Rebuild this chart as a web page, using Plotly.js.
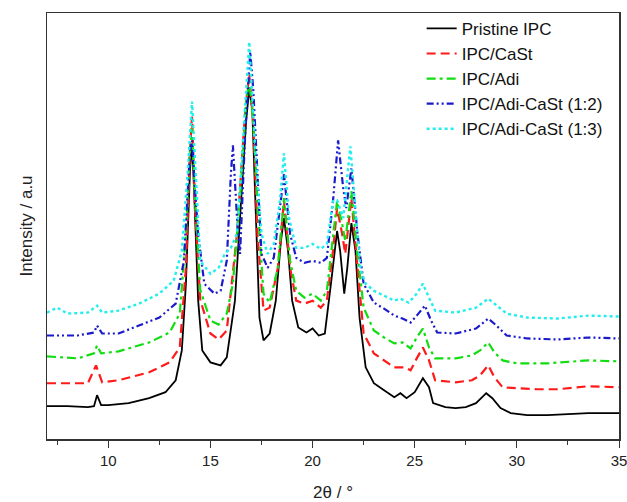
<!DOCTYPE html>
<html>
<head>
<meta charset="utf-8">
<script src="https://cdn.plot.ly/plotly-3.0.1.min.js"></script>
<style>html,body{margin:0;padding:0;background:#fff;}#chart{width:627px;height:502px;}</style>
</head>
<body>
<div id="chart"></div>
<script>
// 2θ positions and intensities (arbitrary units)
const xPristine = [7,8,9,9.3,9.45,9.65,10,11,12,12.8,13.3,13.6,13.8,14.0,14.1,14.2,14.4,14.6,15.0,15.5,15.8,16.2,16.5,16.75,16.9,17.05,17.2,17.4,17.6,17.9,18.2,18.45,18.6,18.8,19.0,19.3,19.7,20.0,20.3,20.6,20.9,21.2,21.35,21.55,21.7,21.9,22.1,22.3,22.6,23.0,23.5,24.0,24.3,24.6,25.0,25.4,25.7,25.9,26.5,27.0,27.5,28.0,28.5,28.8,29.2,29.7,30.5,31.5,33.5,35];
const yPristine = [33,33,32,33,44,34,34,36,41,47,59,89,156,270,296,250,139,89,77,74,82,139,239,320,352,330,239,122,99,106,139,199,222,189,139,112,107,111,104,106,156,209,189,146,172,217,189,122,72,56,49,42,46,41,47,61,52,36,32,31,32,36,46,41,31,26,24,24,26,26];

const xCaSt = [7,9.0,9.4,9.7,10.5,12,13,13.5,13.8,14.0,14.1,14.25,14.5,15.0,15.4,15.8,16.3,16.7,16.9,17.1,17.3,17.6,17.9,18.3,18.6,18.9,19.2,19.6,20.0,20.4,20.7,21.0,21.2,21.45,21.6,21.9,22.2,22.5,23.0,23.5,24.0,24.5,24.8,25.1,25.4,25.7,26.0,27.0,27.8,28.2,28.6,28.9,29.3,30.0,31,32,33.5,35];
const yCaSt = [56,56,74,57,59,67,77,92,172,290,324,230,140,106,100,109,206,330,366,320,206,129,132,172,239,172,139,136,139,132,139,189,232,206,186,242,172,106,86,79,72,72,69,81,92,79,59,57,59,64,74,62,52,51,50,50,53,52];

const xAdi = [7,8.5,9.3,9.45,9.65,10.5,12,13,13.5,13.8,14.0,14.1,14.25,14.5,15.0,15.4,15.8,16.1,16.5,16.75,16.9,17.1,17.3,17.6,17.9,18.3,18.6,18.9,19.2,19.6,20.0,20.4,20.7,21.0,21.2,21.45,21.6,21.9,22.2,22.5,23.0,23.5,24.0,24.4,24.8,25.1,25.4,25.7,26.0,27.0,27.8,28.2,28.6,28.9,29.3,30.0,31.5,33.5,35];
const yAdi = [83,81,86,94,86,88,97,107,126,206,290,312,240,150,119,115,126,156,256,340,359,320,239,146,137,172,242,179,149,142,146,139,149,206,239,216,199,249,186,132,109,102,96,97,91,102,111,92,81,81,84,89,97,87,79,76,76,79,78];

const xAdiCaSt12 = [7,8.5,9.3,9.45,9.7,10.5,11.5,12.5,13.3,13.7,14.0,14.1,14.25,14.4,14.7,15.2,15.5,15.8,16.0,16.1,16.3,16.45,16.7,16.95,17.1,17.3,17.5,17.8,18.1,18.4,18.6,18.9,19.2,19.6,20.0,20.4,20.7,21.0,21.25,21.5,21.65,21.9,22.2,22.5,23.0,23.5,24.0,24.4,24.8,25.1,25.5,25.8,26.1,27.0,28.0,28.6,29.0,29.5,30.5,32,33.5,35];
const yAdiCaSt12 = [104,104,107,114,106,106,114,122,136,179,290,300,250,206,156,146,149,179,266,295,222,186,306,389,350,272,186,172,182,232,266,206,182,177,179,177,182,239,300,252,232,272,206,156,137,131,124,121,117,124,134,119,107,106,111,121,114,104,101,100,102,101];

const xAdiCaSt13 = [7,7.5,8.0,9.0,9.45,9.7,10.5,11.5,12.5,13.2,13.6,13.9,14.1,14.3,14.5,15.0,15.4,15.7,16.0,16.3,16.6,16.9,17.2,17.5,17.8,18.1,18.4,18.6,18.85,19.2,19.6,20.0,20.4,20.7,21.0,21.2,21.5,21.85,22.1,22.35,22.6,23.0,23.5,24.0,24.3,24.7,25.1,25.4,25.7,26.0,27.0,28.0,28.6,29.0,29.5,30.5,32,33.5,35];
const yAdiCaSt13 = [127,132,126,127,134,127,129,136,146,159,189,272,339,256,179,166,172,186,192,206,306,399,289,206,186,196,239,287,222,192,192,196,191,196,239,240,222,294,230,170,156,149,144,139,141,137,146,156,142,129,127,132,141,134,126,122,121,124,123];

const seriesNames = ['Pristine IPC','IPC/CaSt','IPC/Adi','IPC/Adi-CaSt (1:2)','IPC/Adi-CaSt (1:3)'];
const xTickVals = [10,15,20,25,30,35];

const xs = [xPristine,xCaSt,xAdi,xAdiCaSt12,xAdiCaSt13];
const ys = [yPristine,yCaSt,yAdi,yAdiCaSt12,yAdiCaSt13];
const colors = ['#000000','#ff1a1a','#11dd11','#1a1acc','#22eeee'];
const dashes = ['solid','9px,5px','9px,4px,3px,4px','7px,3px,2px,3px,2px,3px','3px,3px'];
const widths = [1.8,2.2,2.2,2.2,2.4];

const traces = seriesNames.map((n,i)=>({
  type:'scatter', mode:'lines', name:n, x:xs[i], y:ys[i],
  line:{color:colors[i], width:widths[i], dash:dashes[i]}
}));

const layout = {
  width:627, height:502,
  margin:{l:47, r:8, t:13, b:63},
  paper_bgcolor:'#fff', plot_bgcolor:'#fff',
  font:{family:'Arial, Liberation Sans, sans-serif', color:'#222', size:15},
  showlegend:true,
  legend:{x:0.655, y:1.005, xanchor:'left', yanchor:'top', bgcolor:'rgba(0,0,0,0)',
          font:{size:17, color:'#111'}},
  xaxis:{range:[7,35], tickvals:xTickVals, ticks:'outside', ticklen:7, tickcolor:'#333', tickwidth:1,
         minor:{dtick:2.5, tick0:0, ticks:'outside', ticklen:4, tickcolor:'#333'},
         ticklabeloverflow:'allow',
         showline:true, mirror:true, linecolor:'#333', linewidth:1.5, showgrid:false, zeroline:false,
         tickfont:{size:15, color:'#222'},
         title:{text:'2θ / °', font:{size:17, color:'#222'}, standoff:18}},
  yaxis:{range:[0,428], showticklabels:false, ticks:'', showline:true, mirror:true,
         linecolor:'#333', linewidth:1.5, showgrid:false, zeroline:false,
         title:{text:'Intensity / a.u', font:{size:17, color:'#222'}, standoff:8}}
};

Plotly.newPlot('chart', traces, layout, {displayModeBar:false, staticPlot:true});
</script>
</body>
</html>
